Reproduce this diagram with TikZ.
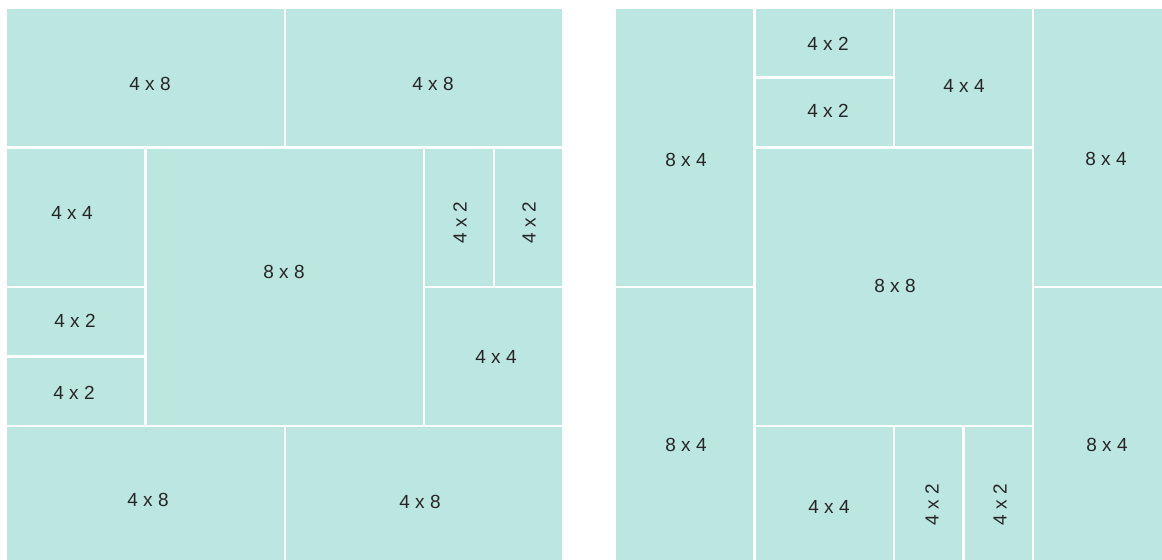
\documentclass[tikz,border=0pt]{standalone}
\usepackage{fontspec}
\setmainfont{Liberation Sans}
\definecolor{tileCol}{RGB}{188,230,224}
\definecolor{textCol}{RGB}{38,38,38}
\tikzset{
    tile/.style={fill=tileCol, draw=white, line width=1.2pt},
    tag/.style={text=textCol, font=\fontsize{9.5}{11}\selectfont, inner sep=1pt},
    common settings/.style={x=0.5pt, y=-0.5pt}
}

\begin{document}
\begin{tikzpicture}[common settings]

    % Configuration
    \def\cell{34.85}   % grid step in pixels
    \def\topY{8}       % top edge of both squares
    \def\leftX{6}      % left square origin
    \def\rightX{615}   % right square origin

    \useasboundingbox (0,0) rectangle (1162,560);
    \clip (0,0) rectangle (1162,560);

    % 1. Left square tiles (x0/y0/x1/y1 in grid steps)
    \foreach \xa/\ya/\xb/\yb in {0/0/8/4, 8/0/16/4, 0/4/4/8, 0/8/4/10, 0/10/4/12,
        4/4/12/12, 12/4/14/8, 14/4/16/8, 12/8/16/12, 0/12/8/16, 8/12/16/16} {
        \path[tile] (\leftX + \xa*\cell, \topY + \ya*\cell)
            rectangle (\leftX + \xb*\cell, \topY + \yb*\cell);
    }

    % 2. Right square tiles
    \foreach \xa/\ya/\xb/\yb in {0/0/4/8, 0/8/4/16, 4/0/8/2, 4/2/8/4, 8/0/12/4,
        4/4/12/12, 4/12/8/16, 8/12/10/16, 10/12/12/16, 12/0/16/8, 12/8/16/16} {
        \path[tile] (\rightX + \xa*\cell, \topY + \ya*\cell)
            rectangle (\rightX + \xb*\cell, \topY + \yb*\cell);
    }

    % 3. Size labels (pixel positions)
    \foreach \px/\py/\txt/\rot/\nm in {
        150/84/4 x 8/0/lTopA, 433/84/4 x 8/0/lTopB,
        72/213/4 x 4/0/lMidA, 75/321/4 x 2/0/lMidB, 74/393/4 x 2/0/lMidC,
        284/272/8 x 8/0/lCore,
        460/223/4 x 2/90/lSideA, 529/223/4 x 2/90/lSideB, 496/357/4 x 4/0/lSideC,
        148/500/4 x 8/0/lBotA, 420/502/4 x 8/0/lBotB,
        686/160/8 x 4/0/rLeftA, 686/445/8 x 4/0/rLeftB,
        828/44/4 x 2/0/rTopA, 828/111/4 x 2/0/rTopB, 964/86/4 x 4/0/rTopC,
        895/286/8 x 8/0/rCore,
        829/507/4 x 4/0/rBotA, 932/505/4 x 2/90/rBotB, 1000/505/4 x 2/90/rBotC,
        1106/159/8 x 4/0/rRightA, 1107/445/8 x 4/0/rRightB} {
        \node[tag, rotate=\rot] (\nm) at (\px,\py) {\txt};
    }

\end{tikzpicture}
\end{document}
